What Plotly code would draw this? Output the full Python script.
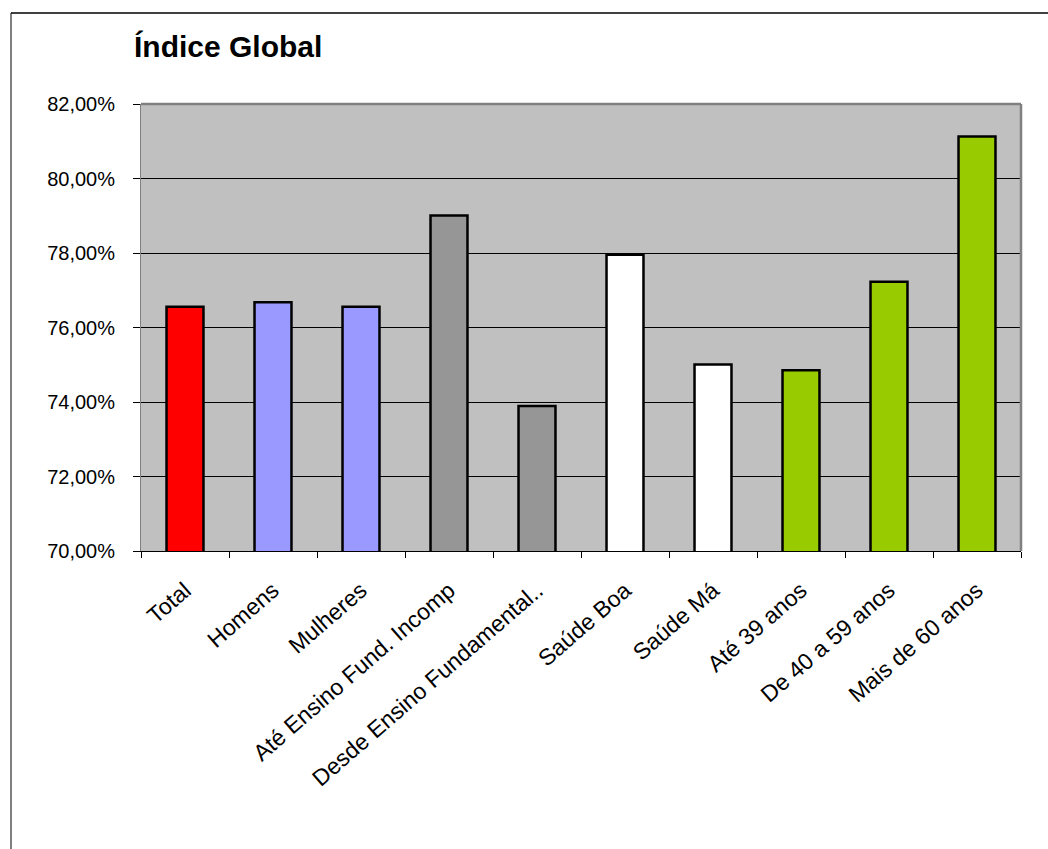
import plotly.graph_objects as go

categories = ["Total", "Homens", "Mulheres", "Até Ensino Fund. Incomp",
              "Desde Ensino Fundamental..", "Saúde Boa", "Saúde Má",
              "Até 39 anos", "De 40 a 59 anos", "Mais de 60 anos"]
values = [76.56, 76.68, 76.56, 79.01, 73.89, 77.95, 75.01, 74.85, 77.23, 81.13]
bar_colors = ["#FF0000", "#9999FF", "#9999FF", "#969696", "#969696",
              "#FFFFFF", "#FFFFFF", "#99CC00", "#99CC00", "#99CC00"]
y_ticks = [70, 72, 74, 76, 78, 80, 82]
y_tick_text = ["70,00%", "72,00%", "74,00%", "76,00%", "78,00%", "80,00%", "82,00%"]

W, H = 1048, 849
L, R, T, B = 141, 1021, 104, 551
FONT = "Arial, Liberation Sans, sans-serif"

fig = go.Figure(go.Bar(
    x=categories, y=values,
    marker=dict(color=bar_colors, line=dict(color="black", width=2.5)),
    width=0.42,
))

def px_to_paper_x(px):
    return (px - L) / (R - L)

def px_to_paper_y(py):
    return (B - py) / (B - T)

fig.update_layout(
    width=W, height=H,
    margin=dict(l=L, r=W - R, t=T, b=H - B, pad=0),
    paper_bgcolor="white",
    plot_bgcolor="#C0C0C0",
    showlegend=False,
    font=dict(family=FONT, size=15, color="black"),
    title=dict(text="<b>Índice Global</b>", x=134 / W, xanchor="left",
               y=1 - 46 / H, yanchor="middle",
               font=dict(size=30, color="black", family=FONT)),
    xaxis=dict(
        showgrid=False, showline=True, linecolor="black", linewidth=1,
        ticks="outside", ticklen=6, tickcolor="black", tickson="boundaries",
        tickangle=-41, tickfont=dict(size=23, family=FONT),
        ticklabelstandoff=16,
        range=[-0.5, len(categories) - 0.5],
    ),
    yaxis=dict(
        range=[70, 82], tickmode="array", tickvals=y_ticks, ticktext=y_tick_text,
        showgrid=True, gridcolor="black", gridwidth=1,
        showline=True, linecolor="#808080", linewidth=1,
        ticks="outside", ticklen=7, tickcolor="black",
        tickfont=dict(size=20, family=FONT), zeroline=False,
        ticklabelstandoff=14,
    ),
    shapes=[
        dict(type="line", xref="paper", yref="paper", x0=0, x1=1, y0=1, y1=1,
             line=dict(color="#808080", width=2.5)),
        dict(type="line", xref="paper", yref="paper", x0=1, x1=1, y0=0, y1=1,
             line=dict(color="#808080", width=2.5)),
        dict(type="line", xref="paper", yref="paper",
             x0=px_to_paper_x(11), x1=px_to_paper_x(11),
             y0=px_to_paper_y(H + 5), y1=px_to_paper_y(13),
             line=dict(color="black", width=1)),
        dict(type="line", xref="paper", yref="paper",
             x0=px_to_paper_x(11), x1=px_to_paper_x(W + 5),
             y0=px_to_paper_y(13), y1=px_to_paper_y(13),
             line=dict(color="black", width=1.5)),
    ],
)

fig.write_html("out.html")
